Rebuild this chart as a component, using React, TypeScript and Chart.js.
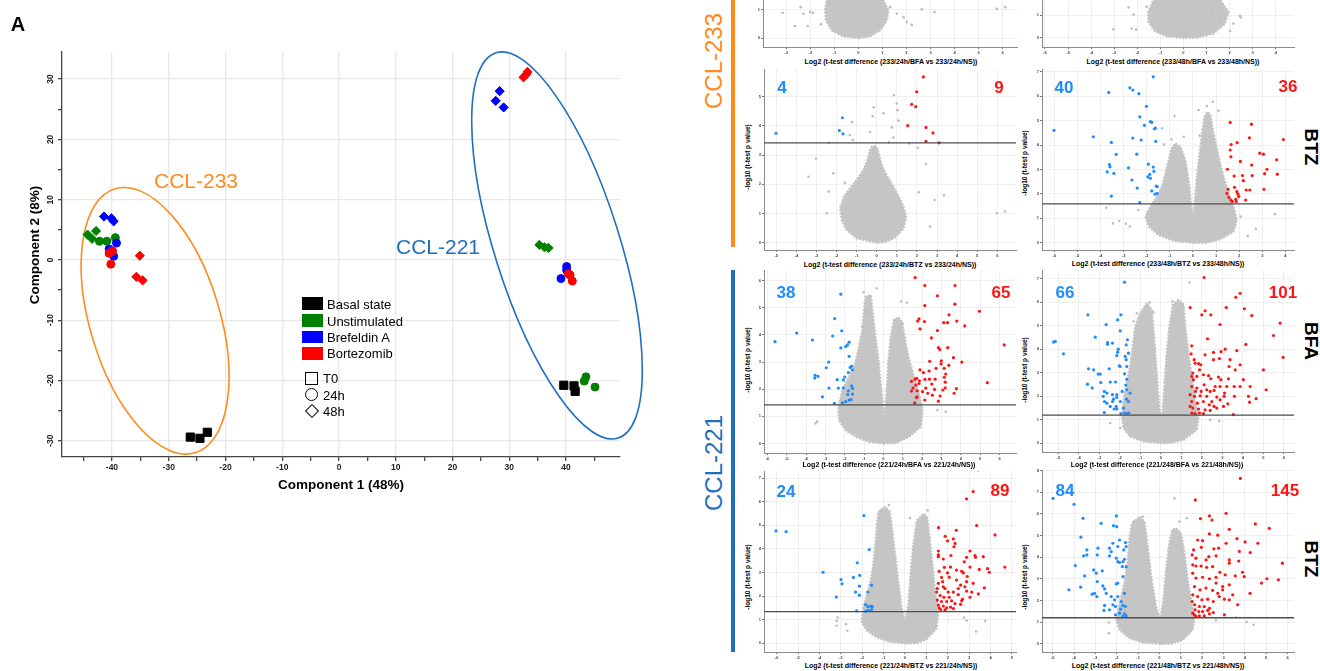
import React, { useEffect, useRef } from 'react';
import { Chart, registerables } from 'chart.js';
Chart.register(...registerables);

type P = [number, number];
const FONT = "Arial, 'Liberation Sans', sans-serif";

// ---------------- PCA data (Component 1, Component 2) ----------------
const pcaBasalT0: P[] = [[-26.2, -29.4], [-24.5, -29.6], [-23.2, -28.6], [39.6, -20.8], [41.4, -20.9], [41.6, -21.8]];
const pcaUnstim24: P[] = [[-42.2, 3.1], [-40.9, 3.1], [-39.4, 3.7], [43.5, -19.4], [43.2, -20.1], [45.1, -21.1]];
const pcaUnstim48: P[] = [[-44.3, 4.2], [-43.5, 3.5], [-42.8, 4.8], [35.3, 2.5], [36.2, 2.1], [36.9, 2.0]];
const pcaBfa24: P[] = [[-39.2, 2.8], [-40.5, 1.8], [-39.7, 0.6], [40.1, -1.1], [40.1, -1.7], [39.1, -3.1]];
const pcaBfa48: P[] = [[-41.4, 7.2], [-40.1, 6.9], [-39.7, 6.4], [28.3, 28.0], [27.6, 26.4], [29.0, 25.3]];
const pcaBtz24: P[] = [[-40.5, 1.1], [-40.2, -0.7], [-39.9, 1.5], [40.7, -2.5], [41.1, -3.5], [40.4, -2.3]];
const pcaBtz48: P[] = [[-35.1, 0.7], [-35.7, -2.8], [-34.6, -3.4], [33.0, 30.8], [32.5, 30.3], [33.2, 31.2]];
const legendGroups = ['Basal state', 'Unstimulated', 'Brefeldin A', 'Bortezomib'];
const legendTimes = ['T0', '24h', '48h'];

// ---------------- Volcano data: [log2 difference, -log10 p] ----------------
const counts = [['4', '9'], ['40', '36'], ['38', '65'], ['66', '101'], ['24', '89'], ['84', '145']];
const thresholds = [null, null, 3.42, 1.59, 1.42, 1.19, 1.34, 1.2];
const xTitles = [
  'Log2 (t-test difference (233/24h/BFA vs 233/24h/NS))',
  'Log2 (t-test difference (233/48h/BFA vs 233/48h/NS))',
  'Log2 (t-test difference (233/24h/BTZ vs 233/24h/NS))',
  'Log2 (t-test difference (233/48h/BTZ vs 233/48h/NS))',
  'Log2 (t-test difference (221/24h/BFA vs 221/24h/NS))',
  'Log2 (t-test difference (221/248/BFA vs 221/48h/NS))',
  'Log2 (t-test difference (221/24h/BTZ vs 221/24h/NS))',
  'Log2 (t-test difference (221/48h/BTZ vs 221/48h/NS))',
];

const m0L: P[] = [[0, 0], [-0.63, 0.06], [-1.11, 0.27], [-1.35, 0.62], [-1.39, 0.96], [-1.32, 1.31], [-1.2, 2.0], [-0.8, 3.0], [-0.3, 4.0], [0, 4.3], [0.3, 3.6], [0.7, 2.8], [1.0, 2.0], [1.04, 1.31], [1.25, 0.96], [1.18, 0.62], [0.9, 0.27], [0.49, 0.06]];
const g0L: P[] = [[-3.15, 0.88], [-2.4, 1.08], [-2.29, 0.85], [-2.01, 0.91], [-1.9, 0.88], [-2.64, 0.42], [-2.11, 0.42], [-1.56, 0.48], [2.64, 1.0], [3.17, 0.91], [5.76, 1.02], [6.11, 1.08], [2.01, 0.56], [2.22, 0.46], [1.6, 0.85], [1.88, 0.73], [1.32, 1.08]];

const m0R: P[] = [[0, 0], [-0.72, 0.07], [-1.23, 0.29], [-1.52, 0.71], [-1.52, 1.15], [-1.3, 1.66], [-1.1, 2.5], [-0.6, 3.5], [-0.2, 3.0], [0, 2.0], [0.3, 3.2], [0.7, 3.8], [1.1, 2.6], [1.59, 1.66], [1.95, 1.15], [1.8, 0.63], [1.3, 0.19], [0.58, 0.01]];
const g0R: P[] = [[-3.03, 0.38], [-2.24, 0.41], [-2.05, 0.37], [-2.38, 1.34], [-2.16, 1.03], [-1.59, 1.37], [2.45, 0.97], [2.48, 0.9], [2.16, 0.63], [2.02, 0.31], [1.23, 1.15], [1.59, 0.85]];

const m1L: P[] = [[0, 0], [-1.0, 0.15], [-1.49, 0.43], [-1.74, 0.78], [-1.82, 1.18], [-1.63, 1.58], [-1.33, 1.86], [-1.0, 2.15], [-0.66, 2.49], [-0.46, 2.83], [-0.33, 3.17], [-0.23, 3.29], [-0.08, 3.31], [0.03, 3.23], [0.13, 2.95], [0.28, 2.6], [0.53, 2.26], [0.83, 1.92], [1.09, 1.58], [1.33, 1.23], [1.46, 0.89], [1.33, 0.49], [0.91, 0.18], [0.41, 0.02]];
const g1L: P[] = [[0.86, 5.06], [-0.15, 4.64], [1.0, 4.77], [0.33, 4.43], [1.03, 4.54], [-0.2, 4.33], [-1.23, 4.13], [1.09, 4.18], [0.75, 3.95], [-0.33, 3.79], [-1.34, 3.69], [-1.19, 3.52], [0.83, 3.6], [1.62, 3.4], [2.04, 3.25], [0.6, 3.44], [-2.39, 3.42], [-3.02, 2.88], [-3.4, 2.26], [-2.16, 2.38], [2.45, 2.7], [-2.39, 1.75], [3.35, 1.62], [2.87, 1.46], [5.97, 1.01], [6.38, 1.07], [2.65, 0.55], [-2.49, 1.01], [2.1, 1.73], [-1.59, 2.05]];
const b1L: P[] = [[-5.01, 3.75], [-1.71, 4.28], [-1.86, 3.84], [-1.68, 3.73]];
const r1L: P[] = [[2.32, 5.68], [1.99, 5.17], [1.74, 4.74], [1.94, 4.66], [1.54, 4.01], [2.45, 3.95], [2.8, 3.76], [2.45, 3.47], [3.1, 3.42]];

const m1R: P[] = [[0, 0], [-0.83, 0.08], [-1.48, 0.31], [-1.91, 0.66], [-2.05, 1.07], [-1.84, 1.48], [-1.55, 1.89], [-1.34, 2.3], [-1.19, 2.84], [-1.05, 3.39], [-0.91, 3.87], [-0.76, 4.07], [-0.55, 3.93], [-0.33, 3.39], [-0.19, 2.57], [-0.07, 1.48], [0, 0.93], [0.07, 1.61], [0.17, 2.7], [0.29, 3.66], [0.39, 4.48], [0.5, 5.16], [0.63, 5.37], [0.75, 5.23], [0.89, 4.48], [1.11, 3.52], [1.32, 2.7], [1.54, 2.02], [1.75, 1.48], [1.9, 0.93], [1.75, 0.45], [1.18, 0.14], [0.6, 0]];
const g1R: P[] = [[0.86, 5.78], [0.6, 5.6], [0.24, 5.44], [1.1, 5.41], [-0.8, 5.19], [0.75, 4.89], [-1.34, 4.69], [-0.4, 4.34], [-0.92, 4.23], [0.29, 4.39], [-1.26, 4.03], [-3.75, 1.43], [-2.36, 1.34], [-3.46, 0.79], [-3.19, 0.89], [-2.9, 0.78], [-2.73, 0.66], [3.55, 1.17], [2.37, 0.27], [2.72, 0.57], [1.32, 0.38], [2.07, 1.07]];
const b1R: P[] = [[-6.01, 4.6], [-4.31, 4.34], [-3.64, 6.16], [-2.73, 6.35], [-2.6, 6.26], [-2.34, 6.11], [-1.72, 6.8], [-2.01, 5.59], [-2.3, 5.16], [-2.1, 4.81], [-1.78, 4.93], [-1.62, 4.7], [-1.67, 4.67], [-2.6, 4.29], [-2.24, 4.21], [-1.61, 4.15], [-3.53, 4.11], [-3.32, 3.62], [-3.61, 3.2], [-3.59, 3.11], [-3.71, 2.9], [-3.42, 2.84], [-2.79, 3.07], [-2.43, 3.63], [-1.93, 3.22], [-1.72, 3.1], [-1.69, 2.92], [-1.87, 2.8], [-1.84, 2.64], [-2.64, 2.57], [-2.41, 2.24], [-1.59, 2.32], [-1.55, 2.02], [-1.78, 2.12], [-3.53, 1.91], [-2.3, 1.64], [-1.64, 1.99], [-1.84, 4.96], [-1.55, 2.3], [-1.95, 2.7]];
const r1R: P[] = [[1.61, 4.93], [2.53, 4.86], [1.65, 4.02], [1.91, 4.1], [2.44, 4.3], [1.61, 3.8], [1.64, 3.52], [2.05, 3.33], [1.49, 3.01], [1.78, 2.73], [2.14, 2.75], [2.18, 2.54], [2.54, 3.18], [2.56, 2.75], [2.89, 3.67], [3.05, 3.63], [3.2, 3.01], [3.1, 2.83], [3.07, 2.19], [3.62, 3.4], [3.65, 2.81], [3.91, 4.23], [1.52, 2.19], [1.47, 2.02], [1.55, 1.86], [1.7, 1.69], [1.85, 1.78], [1.95, 1.99], [1.98, 1.89], [1.9, 2.09], [2.28, 1.75], [2.3, 2.16], [2.46, 2.16], [1.8, 2.27], [1.64, 1.75], [1.87, 1.69]];

const m2L: P[] = [[0, 0], [-0.74, 0.06], [-1.43, 0.25], [-1.95, 0.49], [-2.29, 0.86], [-2.33, 1.35], [-2.12, 1.97], [-1.77, 2.46], [-1.46, 2.95], [-1.26, 3.57], [-1.09, 4.18], [-1.0, 4.92], [-0.91, 5.41], [-0.65, 5.47], [-0.57, 4.92], [-0.43, 4.06], [-0.26, 3.08], [-0.09, 1.85], [0.03, 0.98], [0.16, 1.85], [0.26, 3.08], [0.38, 3.94], [0.55, 4.55], [0.78, 4.65], [0.98, 4.43], [1.15, 3.69], [1.33, 3.08], [1.58, 2.46], [1.84, 1.85], [2.02, 1.23], [1.93, 0.62], [1.33, 0.25], [0.64, 0.02]];
const g2L: P[] = [[-0.36, 5.72], [-1.02, 5.57], [-0.96, 5.17], [-0.74, 4.8], [0.91, 5.23], [1.21, 5.19], [-3.5, 0.74], [-3.43, 0.81], [2.79, 1.23], [3.22, 1.17], [-0.91, 4.86], [-1.09, 4.3], [0.55, 4.55], [0.98, 4.43]];
const b2L: P[] = [[-5.6, 3.75], [-4.48, 4.07], [-3.67, 3.81], [-2.52, 4.6], [-2.62, 3.96], [-2.15, 4.15], [-2.2, 3.52], [-1.95, 3.57], [-1.77, 3.73], [-1.86, 3.63], [-2.2, 5.5], [-2.83, 3.0], [-2.95, 2.79], [-3.53, 2.51], [-3.38, 2.47], [-3.55, 2.41], [-2.81, 2.04], [-2.39, 2.35], [-2.0, 2.45], [-2.07, 2.34], [-2.33, 2.04], [-2.07, 2.05], [-1.77, 3.21], [-1.72, 2.8], [-1.64, 2.85], [-1.6, 2.71], [-1.81, 2.61], [-1.64, 2.12], [-1.81, 1.94], [-1.6, 2.03], [-1.84, 1.8], [-1.77, 1.6], [-1.67, 1.62], [-3.15, 1.72], [-2.53, 1.48], [-2.12, 1.5], [-1.95, 1.54], [-1.6, 1.82]];
const r2L: P[] = [[1.64, 6.11], [2.14, 5.82], [3.7, 5.82], [2.79, 5.44], [2.14, 5.08], [3.69, 5.13], [4.96, 4.87], [1.84, 4.59], [1.77, 4.51], [3.39, 4.74], [3.12, 4.45], [3.31, 4.45], [3.79, 4.51], [4.2, 4.33], [1.89, 4.22], [2.79, 4.16], [2.12, 4.49], [2.48, 3.89], [2.84, 3.53], [2.91, 3.46], [3.32, 3.53], [3.62, 3.16], [4.05, 3.0], [6.24, 3.63], [2.39, 3.03], [2.99, 3.04], [2.98, 2.93], [1.89, 2.71], [2.36, 2.67], [2.72, 2.77], [3.14, 2.77], [3.38, 2.88], [2.07, 2.61], [3.22, 2.56], [1.72, 2.4], [1.64, 2.37], [1.86, 2.31], [2.15, 2.36], [2.38, 2.37], [2.67, 2.37], [3.14, 2.44], [3.19, 2.26], [1.45, 2.29], [1.67, 2.15], [1.84, 2.21], [1.53, 2.04], [1.45, 1.93], [1.74, 1.94], [2.19, 2.04], [2.64, 1.99], [3.19, 2.05], [3.77, 2.02], [5.37, 2.24], [3.07, 1.97], [1.74, 1.72], [1.71, 1.69], [2.53, 1.78], [2.93, 1.75], [3.65, 1.85], [1.62, 1.5], [2.14, 1.6], [2.84, 1.56], [2.29, 1.85], [2.02, 1.91], [2.5, 2.19]];

const m2R: P[] = [[0, 0], [-0.85, 0.07], [-1.5, 0.28], [-1.82, 0.64], [-1.9, 1.13], [-1.82, 1.84], [-1.66, 2.55], [-1.5, 3.26], [-1.37, 4.11], [-1.25, 4.96], [-1.01, 5.53], [-0.68, 5.96], [-0.44, 5.67], [-0.33, 4.54], [-0.2, 2.98], [-0.07, 1.42], [0.05, 0.99], [0.13, 1.84], [0.26, 3.55], [0.42, 4.96], [0.59, 5.89], [0.86, 6.1], [1.11, 5.89], [1.19, 4.96], [1.35, 3.83], [1.51, 2.84], [1.67, 1.84], [1.84, 1.13], [1.76, 0.57], [1.11, 0.14], [0.46, 0]];
const g2R: P[] = [[-0.36, 5.57], [-0.55, 5.99], [0.57, 6.03], [1.07, 5.89], [1.4, 6.84], [-2.47, 0.85], [2.85, 0.94], [-1.63, 0.85], [-1.98, 0.64], [2.41, 0.99], [-1.17, 5.53], [-1.33, 5.18]];
const b2R: P[] = [[-5.15, 4.33], [-5.24, 4.3], [-4.75, 3.8], [-3.56, 5.46], [-3.2, 4.51], [-2.67, 5.04], [-2.6, 4.28], [-2.6, 4.21], [-2.36, 4.26], [-1.95, 5.46], [-2.11, 5.25], [-1.77, 6.85], [-1.98, 4.78], [-1.63, 4.4], [-1.69, 4.18], [-2.11, 3.87], [-2.15, 3.72], [-3.53, 3.16], [-3.28, 3.12], [-2.52, 3.16], [-2.03, 3.29], [-1.98, 3.26], [-1.74, 3.69], [-1.69, 3.55], [-3.06, 2.94], [-2.96, 2.94], [-2.93, 2.58], [-3.58, 2.51], [-3.35, 2.35], [-2.47, 2.6], [-2.21, 2.6], [-1.77, 2.95], [-1.66, 2.72], [-1.71, 2.47], [-1.66, 2.27], [-2.76, 2.2], [-2.81, 1.99], [-2.36, 2.06], [-2.15, 2.06], [-2.31, 1.87], [-2.15, 1.94], [-2.75, 1.77], [-2.63, 1.7], [-2.36, 1.77], [-1.67, 1.87], [-1.98, 1.77], [-2.76, 1.3], [-2.28, 1.45], [-2.15, 1.45], [-1.82, 1.49], [-1.95, 1.25], [-1.77, 1.28], [-1.56, 1.28], [-1.66, 1.25], [-1.58, 1.77], [-1.5, 2.13], [-2.18, 1.56], [-1.89, 2.2], [-2.47, 1.56], [-2.08, 4.0], [-2.63, 2.13], [-1.66, 3.26], [-1.58, 3.83]];
const r2R: P[] = [[2.11, 7.05], [3.87, 6.38], [3.66, 6.21], [1.43, 5.77], [2.16, 5.63], [2.0, 5.46], [2.44, 5.46], [3.19, 5.77], [4.08, 5.72], [4.44, 5.43], [2.89, 5.05], [5.82, 5.11], [5.5, 4.58], [2.28, 4.44], [4.15, 4.2], [5.97, 3.65], [1.51, 4.14], [1.48, 3.8], [2.57, 3.86], [2.94, 3.89], [3.14, 4.0], [3.71, 3.94], [2.57, 3.55], [2.86, 3.6], [3.87, 3.33], [3.63, 3.12], [3.33, 3.26], [5.01, 3.12], [1.67, 3.4], [1.84, 3.38], [1.95, 3.33], [1.56, 2.98], [1.51, 2.84], [1.59, 2.7], [1.89, 3.12], [2.33, 2.87], [2.44, 2.74], [2.81, 2.81], [2.65, 2.41], [2.89, 2.41], [3.3, 2.74], [3.58, 2.41], [3.87, 2.41], [5.14, 2.27], [4.28, 1.99], [4.33, 1.74], [4.65, 1.89], [3.59, 1.99], [3.11, 2.13], [3.09, 1.99], [3.27, 1.67], [1.51, 2.41], [1.76, 2.34], [2.11, 2.48], [2.41, 2.2], [2.6, 2.24], [1.43, 2.06], [1.64, 1.99], [1.92, 2.01], [2.24, 1.99], [2.73, 1.96], [2.89, 1.84], [1.51, 1.77], [1.79, 1.7], [2.08, 1.77], [2.37, 1.63], [2.6, 1.56], [1.56, 1.49], [1.84, 1.45], [2.16, 1.42], [2.41, 1.39], [1.51, 1.28], [1.67, 1.25], [1.89, 1.28], [2.08, 1.25], [3.54, 1.21], [1.97, 2.2], [2.24, 2.27], [1.69, 2.2], [1.76, 2.84], [2.08, 2.91], [2.93, 2.7], [1.43, 1.56], [2.49, 1.77], [3.22, 2.41], [4.03, 2.7], [3.06, 1.56], [2.73, 1.49], [1.63, 3.55], [2.16, 3.76], [3.38, 3.55], [4.36, 2.41]];

const m3L: P[] = [[0, 0], [-0.7, 0.06], [-1.32, 0.25], [-1.79, 0.55], [-2.02, 0.91], [-1.95, 1.5], [-1.71, 2.24], [-1.51, 3.13], [-1.4, 4.01], [-1.32, 4.9], [-1.25, 5.56], [-0.93, 5.78], [-0.7, 5.56], [-0.55, 4.45], [-0.36, 2.98], [-0.16, 1.5], [0, 0.91], [0.16, 1.65], [0.26, 2.98], [0.39, 4.16], [0.55, 5.19], [0.86, 5.49], [1.04, 5.34], [1.17, 4.31], [1.29, 3.27], [1.4, 2.24], [1.56, 1.36], [1.48, 0.62], [1.01, 0.18], [0.55, 0]];
const g3L: P[] = [[-3.19, 0.94], [-3.19, 0.74], [-2.76, 0.81], [-2.69, 0.53], [-3.15, 1.09], [2.76, 1.09], [3.74, 0.94], [3.32, 0.5], [2.88, 0.96], [-1.17, 4.71], [-1.01, 4.23], [0.23, 5.31], [-0.75, 5.86], [-1.12, 5.6], [1.06, 5.63]];
const b3L: P[] = [[-6.03, 4.76], [-5.56, 4.73], [-1.92, 5.41], [-1.67, 3.97], [-2.23, 3.41], [-3.83, 3.01], [-2.99, 2.7], [-2.94, 2.52], [-2.41, 2.79], [-2.12, 2.88], [-2.13, 2.42], [-1.56, 2.46], [-2.31, 2.17], [-2.13, 2.04], [-1.74, 2.17], [-3.21, 1.96], [-1.84, 1.64], [-1.73, 1.55], [-1.6, 1.58], [-1.53, 1.55], [-2.26, 1.37], [-1.84, 1.36], [-1.71, 1.4], [-1.56, 1.43]];
const r3L: P[] = [[3.43, 7.35], [3.19, 6.43], [2.88, 6.12], [3.35, 4.99], [4.21, 4.59], [1.57, 4.9], [2.4, 4.79], [1.88, 4.53], [2.26, 4.42], [2.34, 4.23], [2.29, 4.09], [1.99, 4.34], [1.56, 3.91], [1.56, 3.75], [3.04, 3.91], [3.66, 3.67], [3.3, 3.64], [2.77, 3.45], [3.04, 3.23], [3.47, 3.13], [3.86, 3.16], [3.94, 3.01], [4.67, 3.23], [1.84, 3.22], [2.13, 3.23], [2.65, 3.05], [2.73, 2.98], [2.91, 2.83], [1.6, 3.05], [1.99, 2.98], [1.71, 2.79], [2.07, 2.8], [2.41, 2.68], [2.88, 2.61], [3.19, 2.54], [3.43, 2.09], [3.71, 2.35], [1.56, 2.54], [1.79, 2.39], [1.87, 2.32], [2.02, 2.17], [2.26, 2.17], [2.6, 2.46], [2.88, 2.21], [3.12, 2.17], [1.48, 2.17], [1.64, 2.02], [1.82, 1.95], [2.07, 1.95], [2.49, 2.06], [2.69, 1.87], [1.51, 1.83], [1.71, 1.77], [1.95, 1.77], [2.18, 1.8], [2.34, 1.68], [2.6, 1.65], [1.56, 1.62], [1.79, 1.58], [1.95, 1.5], [2.13, 1.53], [1.67, 1.43], [1.87, 1.42], [2.26, 1.47], [1.6, 1.5], [1.51, 2.32], [2.41, 3.1], [1.79, 3.57], [1.56, 3.67], [2.15, 3.72], [2.8, 2.39], [2.49, 2.32], [2.65, 1.8], [1.76, 2.61], [3.04, 1.95], [3.27, 3.72], [2.88, 3.64]];

const m3R: P[] = [[0, 0], [-0.78, 0.06], [-1.4, 0.26], [-1.87, 0.65], [-2.02, 1.11], [-1.87, 1.87], [-1.64, 2.8], [-1.48, 3.87], [-1.4, 4.95], [-1.28, 5.56], [-0.93, 5.87], [-0.7, 5.64], [-0.55, 4.49], [-0.39, 3.1], [-0.16, 1.72], [0.03, 1.11], [0.19, 2.03], [0.31, 3.41], [0.44, 4.49], [0.59, 5.25], [0.78, 5.33], [1.01, 5.1], [1.17, 4.18], [1.32, 2.95], [1.48, 2.03], [1.64, 1.26], [1.56, 0.65], [1.09, 0.18], [0.55, 0]];
const g3R: P[] = [[-2.37, 0.98], [-2.37, 0.49], [4.08, 1.0], [4.41, 0.88], [3.58, 1.21], [2.65, 1.08], [0.7, 6.71], [0.93, 5.64], [1.28, 5.79], [-0.78, 5.87], [-1.21, 5.64]];
const b3R: P[] = [[-4.98, 6.71], [-4.0, 6.44], [-3.58, 5.79], [-3.68, 4.92], [-3.4, 4.33], [-3.4, 4.1], [-3.55, 4.06], [-3.94, 3.61], [-3.5, 3.13], [-3.69, 2.61], [-4.24, 2.49], [-2.73, 5.56], [-2.88, 4.41], [-2.91, 4.1], [-2.34, 4.41], [-2.26, 4.25], [-2.15, 5.45], [-2.0, 5.41], [-2.02, 5.9], [-1.95, 4.49], [-1.87, 4.79], [-1.59, 4.67], [-1.56, 4.49], [-1.67, 4.33], [-2.34, 4.06], [-2.02, 3.95], [-1.95, 3.79], [-1.87, 3.75], [-1.71, 3.79], [-1.56, 3.56], [-1.74, 3.56], [-1.64, 3.9], [-3.08, 3.41], [-2.68, 3.36], [-2.96, 3.26], [-2.91, 2.87], [-2.65, 2.67], [-2.57, 2.53], [-2.49, 2.33], [-3.15, 2.29], [-2.93, 2.18], [-2.26, 2.18], [-2.1, 2.03], [-2.57, 1.77], [-2.6, 1.54], [-2.18, 1.8], [-2.06, 1.72], [-1.95, 2.8], [-2.02, 2.76], [-1.71, 3.1], [-1.64, 2.33], [-1.71, 1.77], [-1.59, 1.72], [-1.82, 1.6], [-1.87, 1.41], [-1.64, 1.38], [-2.06, 1.34], [-1.71, 1.26], [-1.56, 1.29], [-1.95, 2.18], [-1.79, 1.95], [-2.34, 1.57], [-3.04, 2.33], [-2.18, 4.64]];
const r3R: P[] = [[3.79, 7.63], [1.68, 6.64], [3.12, 6.02], [2.34, 5.9], [1.92, 5.78], [2.46, 5.71], [4.49, 5.53], [5.14, 5.33], [3.27, 5.28], [2.34, 5.07], [2.73, 5.01], [3.63, 4.85], [1.79, 4.79], [2.02, 4.76], [3.12, 4.64], [4.01, 4.7], [4.61, 4.64], [1.96, 4.45], [2.55, 4.38], [2.77, 4.41], [3.74, 4.26], [4.25, 4.21], [1.6, 4.33], [1.53, 4.1], [2.31, 4.02], [2.65, 4.06], [3.27, 3.87], [3.27, 3.72], [3.71, 3.82], [5.76, 3.72], [1.56, 3.64], [1.71, 3.59], [1.95, 3.59], [2.21, 3.53], [2.49, 3.56], [2.83, 3.3], [3.08, 3.18], [3.55, 3.13], [3.89, 3.3], [2.65, 3.07], [1.56, 3.26], [1.71, 3.03], [2.02, 3.07], [2.34, 3.0], [5.03, 3.0], [4.78, 2.8], [5.57, 2.95], [2.65, 2.8], [2.96, 2.64], [3.27, 2.72], [1.64, 2.64], [1.9, 2.49], [2.18, 2.57], [2.49, 2.46], [2.73, 2.33], [4.24, 2.33], [2.8, 2.18], [3.04, 2.06], [3.27, 2.03], [1.56, 2.26], [1.79, 2.18], [1.99, 2.03], [2.26, 2.06], [2.52, 1.95], [1.53, 1.95], [1.65, 1.8], [1.87, 1.72], [2.1, 1.72], [2.34, 1.64], [3.66, 1.8], [1.67, 1.57], [1.84, 1.49], [2.02, 1.49], [2.26, 1.54], [2.52, 1.44], [1.64, 1.34], [1.87, 1.29], [2.1, 1.29], [2.34, 1.38], [3.04, 1.34], [1.71, 1.26], [1.56, 1.41], [2.96, 2.49], [3.43, 2.26], [3.97, 3.1], [2.18, 3.87], [1.71, 3.95]];

const masses = [m0L, m0R, m1L, m1R, m2L, m2R, m3L, m3R];
const grays = [g0L, g0R, g1L, g1R, g2L, g2R, g3L, g3R];
const blues: P[][] = [[], [], b1L, b1R, b2L, b2R, b3L, b3R];
const reds: P[][] = [[], [], r1L, r1R, r2L, r2R, r3L, r3R];

// ---------------- layout (panel plot rectangles & axis ranges) ----------------
const PANELS = [
  { L: 763, R: 1017, T: -134, B: 47, xmin: -3.97, xmax: 6.6, ymin: -0.31, ymax: 6 },
  { L: 1042, R: 1294, T: -144, B: 47, xmin: -6.13, xmax: 4.79, ymin: -0.4, ymax: 8 },
  { L: 764, R: 1016, T: 69, B: 250, xmin: -5.61, xmax: 6.93, ymin: -0.25, ymax: 5.95 },
  { L: 1042, R: 1294, T: 69, B: 250, xmin: -6.53, xmax: 4.37, ymin: -0.3, ymax: 7.12 },
  { L: 764, R: 1016, T: 270, B: 453, xmin: -6.17, xmax: 6.85, ymin: -0.35, ymax: 6.39 },
  { L: 1042, R: 1294, T: 270, B: 452, xmin: -5.8, xmax: 6.5, ymin: -0.38, ymax: 7.37 },
  { L: 764, R: 1016, T: 471, B: 652, xmin: -6.59, xmax: 5.19, ymin: -0.37, ymax: 7.3 },
  { L: 1042, R: 1294, T: 470, B: 652, xmin: -5.5, xmax: 6.3, ymin: -0.38, ymax: 8.02 },
];
const XTITLE_POS = [[891, 61], [1173, 61], [890, 264], [1158, 263], [889, 464], [1157, 464], [891, 665], [1158, 665]];
const YTITLE_POS = [null, null, [748, 157], [1025, 163], [748, 360], [1025, 370], [748, 577], [1025, 577]];
const COUNT_POS = [[[782, 87], [999, 87]], [[1064, 87], [1288, 86]], [[786, 292], [1001, 292]], [[1065, 292], [1283, 292]], [[786, 491], [1000, 490]], [[1065, 490], [1285, 490]]];

const ORANGE = '#ff8c1a';
const BLUE_L = '#1f6fbf';
const ELLIPSES = [
  { cx: -32.4, cy: -10.1, rx: 11.43, ry: 24.3, rot: -16.9, color: ORANGE },
  { cx: 38.4, cy: 2.4, rx: 11.0, ry: 35.6, rot: -17.6, color: BLUE_L },
];

const toXY = (a: P[]) => a.map(([x, y]) => ({ x, y }));

const massPlugin = {
  id: 'massPoly',
  beforeDatasetsDraw(chart: any, _a: any, opts: any) {
    const poly: P[] = opts && opts.points;
    if (!poly || !poly.length) return;
    const { ctx, chartArea, scales } = chart;
    ctx.save();
    ctx.beginPath();
    ctx.rect(chartArea.left, chartArea.top, chartArea.width, chartArea.height);
    ctx.clip();
    ctx.beginPath();
    poly.forEach(([px, py], i) => {
      const X = scales.x.getPixelForValue(px);
      const Y = scales.y.getPixelForValue(py);
      if (i) ctx.lineTo(X, Y); else ctx.moveTo(X, Y);
    });
    ctx.closePath();
    ctx.fillStyle = opts.color || '#c4c4c4';
    ctx.fill();
    ctx.setLineDash([0.01, 3.4]);
    ctx.lineCap = 'round';
    ctx.lineWidth = 2.6;
    ctx.strokeStyle = opts.color || '#c4c4c4';
    ctx.stroke();
    ctx.restore();
  },
};

const ellipsePlugin = {
  id: 'ellipses',
  beforeDatasetsDraw(chart: any, _a: any, opts: any) {
    const list = (opts && opts.items) || [];
    const { ctx, scales } = chart;
    const ppu = Math.abs(scales.x.getPixelForValue(1) - scales.x.getPixelForValue(0));
    list.forEach((e: any) => {
      ctx.save();
      ctx.beginPath();
      ctx.ellipse(scales.x.getPixelForValue(e.cx), scales.y.getPixelForValue(e.cy), e.rx * ppu, e.ry * ppu, (e.rot * Math.PI) / 180, 0, Math.PI * 2);
      ctx.strokeStyle = e.color;
      ctx.lineWidth = 1.6;
      ctx.stroke();
      ctx.restore();
    });
  },
};

const yRotLabels = {
  id: 'yRotLabels',
  afterDraw(chart: any) {
    const s = chart.scales.y;
    const ctx = chart.ctx;
    ctx.save();
    ctx.font = `bold 8.5px ${FONT}`;
    ctx.fillStyle = '#222';
    ctx.textAlign = 'center';
    ctx.textBaseline = 'middle';
    s.ticks.forEach((t: any) => {
      if (Math.round(t.value) % 10 !== 0) return;
      const py = s.getPixelForValue(t.value);
      ctx.save();
      ctx.translate(s.right - 11, py);
      ctx.rotate(-Math.PI / 2);
      ctx.fillText(String(t.value), 0, 0);
      ctx.restore();
    });
    ctx.restore();
  },
};

function fixScale(w: number | null, h: number | null) {
  return (scale: any) => {
    if (w !== null) scale.width = w;
    if (h !== null) scale.height = h;
    scale.paddingLeft = 0; scale.paddingRight = 0; scale.paddingTop = 0; scale.paddingBottom = 0;
  };
}

function ChartCanvas({ left, top, width, height, make }: any) {
  const ref = useRef<HTMLCanvasElement>(null);
  useEffect(() => {
    const c = new Chart(ref.current as HTMLCanvasElement, make());
    return () => c.destroy();
  }, []);
  return <canvas ref={ref} width={width} height={height} style={{ position: 'absolute', left, top, width, height }} />;
}

const YW = 12, XH = 9, PT = 1, PR = 1;

function volcanoConfig(i: number) {
  const g = PANELS[i];
  const thr = thresholds[i];
  const datasets: any[] = [];
  if (thr !== null) {
    datasets.push({ type: 'line', data: [{ x: g.xmin, y: thr }, { x: g.xmax, y: thr }], borderColor: '#4d4d4d', borderWidth: 1.3, pointRadius: 0, showLine: true, fill: false });
  }
  datasets.push({ data: toXY(reds[i]), backgroundColor: '#ff1414', pointRadius: 1.6, pointBorderWidth: 0 });
  datasets.push({ data: toXY(blues[i]), backgroundColor: '#1e8cff', pointRadius: 1.6, pointBorderWidth: 0 });
  datasets.push({ data: toXY(grays[i]), backgroundColor: '#bdbdbd', pointRadius: 1.3, pointBorderWidth: 0 });
  const tickFont = { size: 4, weight: 'bold' as const, family: FONT };
  return {
    type: 'scatter',
    data: { datasets },
    plugins: [massPlugin],
    options: {
      animation: false,
      responsive: false,
      events: [],
      layout: { padding: { top: PT, right: PR, left: 0, bottom: 0 }, autoPadding: false },
      plugins: { legend: { display: false }, tooltip: { enabled: false }, massPoly: { points: masses[i], color: '#c5c5c5' } },
      scales: {
        x: {
          type: 'linear', min: g.xmin, max: g.xmax,
          ticks: { stepSize: 1, includeBounds: false, font: tickFont, color: '#444', padding: 1, maxRotation: 0, autoSkip: false },
          grid: { color: '#efefef', tickLength: 2, tickColor: '#777' },
          border: { color: '#8c8c8c', width: 1 },
          afterFit: fixScale(null, XH),
        },
        y: {
          type: 'linear', min: g.ymin, max: g.ymax,
          ticks: { stepSize: 1, includeBounds: false, font: tickFont, color: '#444', padding: 1, autoSkip: false },
          grid: { color: '#efefef', tickLength: 2, tickColor: '#777' },
          border: { color: '#8c8c8c', width: 1 },
          afterFit: fixScale(YW, null),
        },
      },
    },
  };
}

function pcaConfig() {
  const mk = (d: P[], color: string, style: string, r: number) => ({ data: toXY(d), backgroundColor: color, borderColor: color, pointStyle: style, pointRadius: r, pointBorderWidth: 1 });
  const tickFont = { size: 8.5, weight: 'bold' as const, family: FONT };
  const gridColor = (c: any) => (c.tick && Math.round(c.tick.value) % 10 === 0 ? '#e8e8e8' : 'rgba(0,0,0,0)');
  return {
    type: 'scatter',
    data: {
      datasets: [
        mk(pcaBtz24, '#ff0000', 'circle', 4),
        mk(pcaBtz48, '#ff0000', 'rectRot', 4.6),
        mk(pcaBfa24, '#0000ff', 'circle', 4),
        mk(pcaBfa48, '#0000ff', 'rectRot', 4.6),
        mk(pcaUnstim24, '#008000', 'circle', 4),
        mk(pcaUnstim48, '#008000', 'rectRot', 4.6),
        mk(pcaBasalT0, '#000000', 'rect', 5.8),
      ],
    },
    plugins: [ellipsePlugin, yRotLabels],
    options: {
      animation: false,
      responsive: false,
      events: [],
      layout: { padding: { top: 52, right: 60, left: 0, bottom: 0 }, autoPadding: false },
      plugins: { legend: { display: false }, tooltip: { enabled: false }, ellipses: { items: ELLIPSES } },
      scales: {
        x: {
          type: 'linear', min: -48.8, max: 49.5,
          ticks: { stepSize: 5, includeBounds: false, font: tickFont, color: '#222', padding: 2, maxRotation: 0, autoSkip: false, callback: (v: any) => (Math.round(v) % 10 === 0 ? String(v) : '') },
          grid: { color: gridColor, lineWidth: 1.3, tickLength: 4, tickColor: '#444' },
          border: { color: '#444', width: 1.3 },
          afterFit: fixScale(null, 43),
        },
        y: {
          type: 'linear', min: -32.7, max: 34.5,
          ticks: { display: false, stepSize: 5, includeBounds: false },
          grid: { color: gridColor, lineWidth: 1.3, tickLength: 4, tickColor: '#444' },
          border: { color: '#444', width: 1.3 },
          afterFit: fixScale(62, null),
        },
      },
    },
  };
}

function T({ x, y, text, size, color = '#000', bold = false, rot = 0 }: any) {
  return (
    <div style={{ position: 'absolute', left: x, top: y, transform: `translate(-50%,-50%) rotate(${rot}deg)`, fontSize: size, fontWeight: bold ? 700 : 400, color, whiteSpace: 'nowrap', lineHeight: 1, fontFamily: FONT }}>
      {text}
    </div>
  );
}

const LEGEND_COLORS = ['#000000', '#008000', '#0000ff', '#ff0000'];

export default function App() {
  return (
    <div style={{ position: 'absolute', left: 0, top: 0, width: 1320, height: 671, overflow: 'hidden', background: '#fff', fontFamily: FONT }}>
      <ChartCanvas left={0} top={0} width={680} height={500} make={pcaConfig} />
      <T x={18} y={24} text="A" size={20} bold />
      <T x={196} y={180} text="CCL-233" size={21} color={ORANGE} />
      <T x={438} y={246} text="CCL-221" size={21} color={BLUE_L} />
      <T x={341} y={485} text="Component 1 (48%)" size={13.5} bold />
      <T x={35} y={245} text="Component 2 (8%)" size={13.5} bold rot={-90} />
      {legendGroups.map((g, i) => (
        <React.Fragment key={g}>
          <div style={{ position: 'absolute', left: 302, top: [297, 314, 330.5, 347][i], width: 21, height: 12.5, background: LEGEND_COLORS[i] }} />
          <div style={{ position: 'absolute', left: 327, top: [304, 320.5, 337, 353][i], transform: 'translateY(-50%)', fontSize: 13, lineHeight: 1, whiteSpace: 'nowrap' }}>{g}</div>
        </React.Fragment>
      ))}
      <div style={{ position: 'absolute', left: 305, top: 372, width: 11, height: 11, border: '1.5px solid #000' }} />
      <div style={{ position: 'absolute', left: 305, top: 388, width: 11, height: 11, border: '1.5px solid #000', borderRadius: '50%' }} />
      <div style={{ position: 'absolute', left: 307, top: 406, width: 8, height: 8, border: '1.5px solid #000', transform: 'rotate(45deg)' }} />
      {legendTimes.map((t, i) => (
        <div key={t} style={{ position: 'absolute', left: 323, top: [378, 395, 411][i], transform: 'translateY(-50%)', fontSize: 13, lineHeight: 1, whiteSpace: 'nowrap' }}>{t}</div>
      ))}

      {PANELS.map((g, i) => (
        <ChartCanvas key={i} left={g.L - YW} top={g.T - PT} width={g.R - g.L + YW + PR} height={g.B - g.T + PT + XH} make={() => volcanoConfig(i)} />
      ))}
      {xTitles.map((t, i) => (
        <T key={'xt' + i} x={XTITLE_POS[i][0]} y={XTITLE_POS[i][1]} text={t} size={7} bold />
      ))}
      {YTITLE_POS.map((p, i) => (p ? <T key={'yt' + i} x={p[0]} y={p[1]} text="-log10 (t-test p value)" size={6.5} bold rot={-90} /> : null))}
      {COUNT_POS.map((pair, i) => (
        <React.Fragment key={'c' + i}>
          <T x={pair[0][0]} y={pair[0][1]} text={counts[i][0]} size={17} bold color="#1e8cff" />
          <T x={pair[1][0]} y={pair[1][1]} text={counts[i][1]} size={17} bold color="#ff1414" />
        </React.Fragment>
      ))}
      <div style={{ position: 'absolute', left: 731, top: 0, width: 4, height: 247, background: ORANGE }} />
      <div style={{ position: 'absolute', left: 731, top: 270, width: 4, height: 382, background: BLUE_L }} />
      <T x={714} y={61} text="CCL-233" size={24} color={ORANGE} rot={-90} />
      <T x={714} y={463} text="CCL-221" size={24} color={BLUE_L} rot={-90} />
      <T x={1311} y={147} text="BTZ" size={19} bold rot={90} />
      <T x={1311} y={341} text="BFA" size={19} bold rot={90} />
      <T x={1311} y={559} text="BTZ" size={19} bold rot={90} />
    </div>
  );
}
